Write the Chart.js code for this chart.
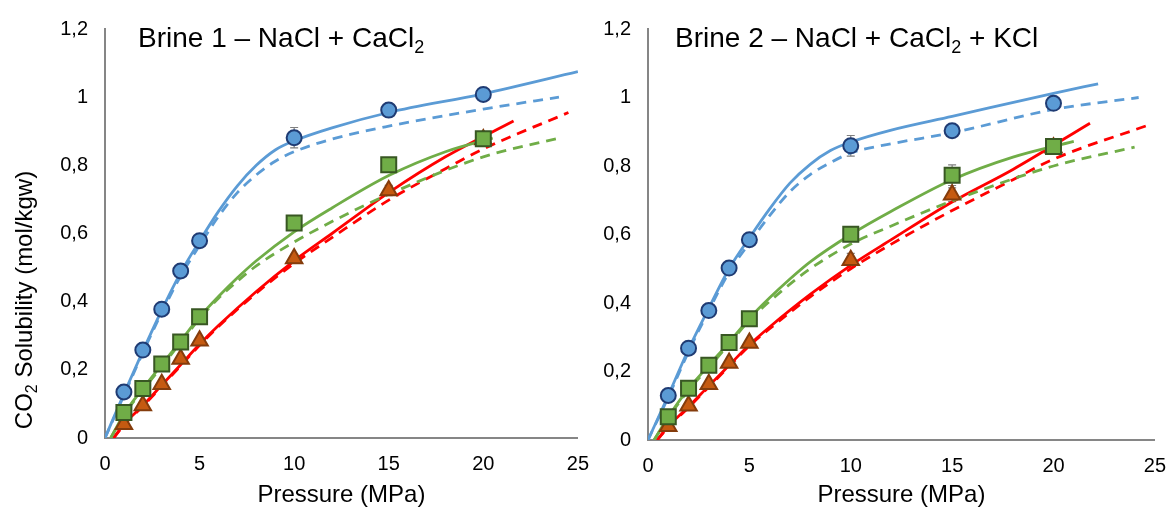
<!DOCTYPE html>
<html>
<head>
<meta charset="utf-8">
<script src="https://cdn.jsdelivr.net/npm/chart.js@4/dist/chart.umd.min.js"></script>
<style>
  body { margin: 0; background: #fff; overflow: hidden; }
  .box { position: absolute; top: 0; height: 510px; }
  #b1 { left: 0; width: 603px; }
  #b2 { left: 590px; width: 590px; }
</style>
</head>
<body>
<div class="box" id="b1"><canvas id="c1"></canvas></div>
<div class="box" id="b2"><canvas id="c2"></canvas></div>
<script>
// measured points, pressure in MPa
var pressure = [1, 2, 3, 4, 5, 10, 15, 20];
var xTicks = [0, 5, 10, 15, 20, 25];
var yTicks = [0, 0.2, 0.4, 0.6, 0.8, 1, 1.2];

// Brine 1
var b1Circle   = [0.135, 0.258, 0.378, 0.49, 0.579, 0.881, 0.962, 1.008];
var b1Square   = [0.075, 0.145, 0.217, 0.282, 0.356, 0.631, 0.802, 0.878];
var b1Triangle = [0.04, 0.095, 0.158, 0.232, 0.285, 0.527, 0.726, 0.876];
var b1CircleErr   = [0, 0, 0, 0, 0, 0.03, 0, 0];
var b1SquareErr   = [0, 0, 0, 0, 0, 0, 0, 0];
var b1TriangleErr = [0, 0, 0, 0, 0, 0.012, 0.015, 0];

var b1BlueSolidP = [0, 1, 2, 3, 4, 5, 6, 7, 8, 9, 10, 12, 15, 20, 25];
var b1BlueSolid  = [0, 0.13, 0.255, 0.375, 0.485, 0.578, 0.665, 0.74, 0.8, 0.845, 0.872, 0.91, 0.955, 1.01, 1.075];
var b1BlueDashP  = [0, 1, 2, 3, 4, 5, 6, 7, 8, 9, 10, 12, 15, 20, 24];
var b1BlueDash   = [0, 0.125, 0.25, 0.368, 0.475, 0.565, 0.65, 0.72, 0.772, 0.812, 0.84, 0.877, 0.915, 0.965, 1.0];
var b1GreenSolidP = [0.3, 1, 2, 3, 4, 5, 6, 7, 8, 10, 12, 15, 18, 20.5];
var b1GreenSolid  = [0, 0.07, 0.145, 0.215, 0.285, 0.355, 0.415, 0.47, 0.52, 0.605, 0.675, 0.77, 0.84, 0.88];
var b1GreenDashP  = [0.3, 1, 2, 3, 4, 5, 6, 7, 8, 10, 12, 15, 20, 24];
var b1GreenDash   = [0, 0.068, 0.14, 0.21, 0.28, 0.35, 0.41, 0.46, 0.505, 0.575, 0.635, 0.715, 0.825, 0.88];
var b1RedSolidP = [0.45, 1, 2, 3, 4, 5, 6, 8, 10, 12, 15, 18, 21.6];
var b1RedSolid  = [0, 0.04, 0.095, 0.155, 0.215, 0.275, 0.33, 0.43, 0.52, 0.6, 0.72, 0.825, 0.93];
var b1RedDashP  = [0.45, 1, 2, 3, 4, 5, 6, 8, 10, 12, 15, 18, 20, 24.5];
var b1RedDash   = [0, 0.038, 0.093, 0.152, 0.212, 0.272, 0.327, 0.425, 0.512, 0.588, 0.698, 0.79, 0.848, 0.955];

// Brine 2
var b2Circle   = [0.13, 0.268, 0.378, 0.502, 0.585, 0.859, 0.903, 0.983];
var b2Square   = [0.068, 0.151, 0.218, 0.285, 0.354, 0.601, 0.773, 0.857];
var b2Triangle = [0.04, 0.1, 0.163, 0.225, 0.283, 0.525, 0.716, 0.853];
var b2CircleErr   = [0, 0, 0, 0, 0, 0.03, 0, 0];
var b2SquareErr   = [0, 0, 0, 0, 0, 0, 0.03, 0];
var b2TriangleErr = [0, 0, 0, 0, 0, 0.02, 0.02, 0];

var b2BlueSolidP = [0, 1, 2, 3, 4, 5, 6, 7, 8, 9, 10, 12, 15, 20, 22.2];
var b2BlueSolid  = [0, 0.13, 0.265, 0.385, 0.5, 0.59, 0.675, 0.75, 0.805, 0.845, 0.87, 0.905, 0.945, 1.012, 1.04];
var b2BlueDashP  = [0, 1, 2, 3, 4, 5, 6, 7, 8, 9, 10, 12, 15, 20, 24.2];
var b2BlueDash   = [0, 0.125, 0.258, 0.378, 0.49, 0.575, 0.655, 0.725, 0.775, 0.81, 0.838, 0.865, 0.897, 0.965, 1.0];
var b2GreenSolidP = [0.3, 1, 2, 3, 4, 5, 6, 7, 8, 10, 12, 15, 18, 21];
var b2GreenSolid  = [0, 0.068, 0.15, 0.218, 0.285, 0.355, 0.415, 0.47, 0.52, 0.6, 0.668, 0.76, 0.826, 0.872];
var b2GreenDashP  = [0.3, 1, 2, 3, 4, 5, 6, 7, 8, 10, 12, 15, 20, 24];
var b2GreenDash   = [0, 0.065, 0.145, 0.212, 0.28, 0.35, 0.405, 0.455, 0.5, 0.572, 0.625, 0.698, 0.8, 0.855];
var b2RedSolidP = [0.45, 1, 2, 3, 4, 5, 6, 8, 10, 12, 15, 18, 21.8];
var b2RedSolid  = [0, 0.04, 0.097, 0.158, 0.218, 0.278, 0.33, 0.425, 0.51, 0.585, 0.695, 0.79, 0.925];
var b2RedDashP  = [0.45, 1, 2, 3, 4, 5, 6, 8, 10, 12, 15, 18, 20, 24.7];
var b2RedDash   = [0, 0.038, 0.095, 0.155, 0.215, 0.275, 0.325, 0.418, 0.5, 0.572, 0.67, 0.76, 0.82, 0.92];

var blue = '#5B9BD5', green = '#70AD47', red = '#FF0000';
var FONT = '"Liberation Sans", Arial, sans-serif';

function pts(xs, ys) {
    return xs.map(function (x, i) { return { x: x, y: ys[i] }; });
}

function curve(xs, ys, color, dashed) {
    return {
        data: pts(xs, ys), showLine: true, borderColor: color, borderWidth: 2.8,
        borderDash: dashed ? [10, 7] : [], pointRadius: 0, fill: false,
        cubicInterpolationMode: 'monotone', order: 2
    };
}

function marks(ys, errs, style, fill, edge, r) {
    return {
        data: pts(pressure, ys), showLine: false, pointStyle: style, pointRadius: r,
        backgroundColor: fill, borderColor: edge, pointBorderWidth: 2, order: 1,
        errs: errs
    };
}

// text with subscript pieces: [[text, isSub], ...]
function drawParts(ctx, parts, x, y, size, align) {
    var subSize = Math.round(size * 0.66);
    var total = 0;
    parts.forEach(function (p) {
        ctx.font = (p[1] ? subSize : size) + 'px ' + FONT;
        total += ctx.measureText(p[0]).width;
    });
    var cx = align === 'center' ? x - total / 2 : x;
    ctx.textAlign = 'left';
    ctx.textBaseline = 'middle';
    parts.forEach(function (p) {
        ctx.font = (p[1] ? subSize : size) + 'px ' + FONT;
        ctx.fillText(p[0], cx, p[1] ? y + size * 0.32 : y);
        cx += ctx.measureText(p[0]).width;
    });
}

var extras = {
    id: 'extras',
    beforeDatasetsDraw: function (chart) {
        var ctx = chart.ctx, xs = chart.scales.x, ys = chart.scales.y;
        ctx.save();
        ctx.strokeStyle = '#7F7F7F';
        ctx.lineWidth = 1.2;
        chart.data.datasets.forEach(function (ds) {
            if (!ds.errs) return;
            ds.data.forEach(function (p, i) {
                var e = ds.errs[i];
                if (!e) return;
                var px = xs.getPixelForValue(p.x);
                var top = ys.getPixelForValue(p.y + e), bot = ys.getPixelForValue(p.y - e);
                ctx.beginPath();
                ctx.moveTo(px, top); ctx.lineTo(px, bot);
                ctx.moveTo(px - 4, top); ctx.lineTo(px + 4, top);
                ctx.moveTo(px - 4, bot); ctx.lineTo(px + 4, bot);
                ctx.stroke();
            });
        });
        ctx.restore();
    },
    afterDraw: function (chart) {
        var o = chart.options.plugins.extras, ctx = chart.ctx;
        ctx.save();
        ctx.fillStyle = '#000';
        drawParts(ctx, o.title, chart.chartArea.left + o.titleDx, 39, 28, 'left');
        if (o.yTitle) {
            ctx.translate(25, 300);
            ctx.rotate(-Math.PI / 2);
            drawParts(ctx, o.yTitle, 0, 0, 24, 'center');
        }
        ctx.restore();
    }
};

function makeChart(id, sets, opts) {
    return new Chart(document.getElementById(id), {
        type: 'scatter',
        data: { datasets: sets },
        plugins: [extras],
        options: {
            responsive: true, maintainAspectRatio: false, animation: false,
            layout: { padding: { top: 24, right: opts.padRight, left: 0, bottom: 0 } },
            plugins: {
                legend: { display: false }, tooltip: { enabled: false },
                extras: { title: opts.title, titleDx: opts.titleDx, yTitle: opts.yTitle }
            },
            scales: {
                x: {
                    type: 'linear', min: 0, max: 25,
                    afterBuildTicks: function (s) { s.ticks = xTicks.map(function (v) { return { value: v }; }); },
                    grid: { display: false, drawTicks: false },
                    border: { color: '#868686', width: 2 },
                    ticks: { padding: 14, color: '#000', font: { family: FONT, size: 20 } },
                    title: { display: true, text: 'Pressure (MPa)', color: '#000',
                             font: { family: FONT, size: 24 }, padding: { top: 4, bottom: 0 } },
                    afterFit: function (s) { s.height = opts.xHeight; }
                },
                y: {
                    min: 0, max: 1.2,
                    afterBuildTicks: function (s) { s.ticks = yTicks.map(function (v) { return { value: v }; }); },
                    grid: { display: false, drawTicks: false },
                    border: { color: '#868686', width: 2 },
                    ticks: {
                        padding: 17, color: '#000', font: { family: FONT, size: 20 },
                        callback: function (v) { return String(Math.round(v * 10) / 10).replace('.', ','); }
                    },
                    afterFit: function (s) { s.width = opts.yWidth; }
                }
            }
        }
    });
}

makeChart('c1', [
    marks(b1Circle, b1CircleErr, 'circle', blue, '#1F3B73', 7.5),
    marks(b1Square, b1SquareErr, 'rect', green, '#385723', 10.6),
    marks(b1Triangle, b1TriangleErr, 'triangle', '#C55A11', '#843C0C', 9.5),
    curve(b1BlueSolidP, b1BlueSolid, blue, false),
    curve(b1BlueDashP, b1BlueDash, blue, true),
    curve(b1GreenSolidP, b1GreenSolid, green, false),
    curve(b1GreenDashP, b1GreenDash, green, true),
    curve(b1RedSolidP, b1RedSolid, red, false),
    curve(b1RedDashP, b1RedDash, red, true)
], {
    padRight: 0, xHeight: 72, yWidth: 105, titleDx: 33,
    title: [['Brine 1 \u2013 NaCl + CaCl', false], ['2', true]],
    yTitle: [['CO', false], ['2', true], [' Solubility (mol/kgw)', false]]
});

makeChart('c2', [
    marks(b2Circle, b2CircleErr, 'circle', blue, '#1F3B73', 7.5),
    marks(b2Square, b2SquareErr, 'rect', green, '#385723', 10.6),
    marks(b2Triangle, b2TriangleErr, 'triangle', '#C55A11', '#843C0C', 9.5),
    curve(b2BlueSolidP, b2BlueSolid, blue, false),
    curve(b2BlueDashP, b2BlueDash, blue, true),
    curve(b2GreenSolidP, b2GreenSolid, green, false),
    curve(b2GreenDashP, b2GreenDash, green, true),
    curve(b2RedSolidP, b2RedSolid, red, false),
    curve(b2RedDashP, b2RedDash, red, true)
], {
    padRight: 0, xHeight: 70, yWidth: 58, titleDx: 27,
    title: [['Brine 2 \u2013 NaCl + CaCl', false], ['2', true], [' + KCl', false]],
    yTitle: null
});
</script>
</body>
</html>
